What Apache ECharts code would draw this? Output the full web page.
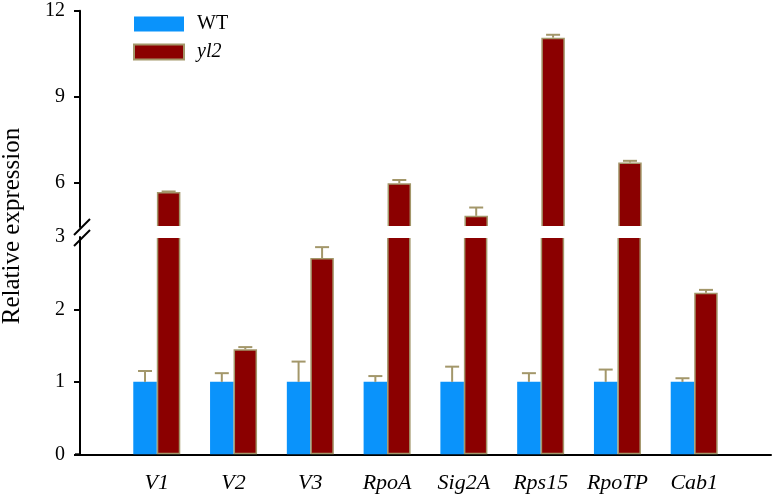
<!DOCTYPE html>
<html><head><meta charset="utf-8">
<script src="https://cdn.jsdelivr.net/npm/echarts@6/dist/echarts.min.js"></script>
<style>html,body{margin:0;padding:0;background:#fff}#c{width:774px;height:499px}</style>
</head><body><div id="c"></div>
<script>
const categories = ['V1', 'V2', 'V3', 'RpoA', 'Sig2A', 'Rps15', 'RpoTP', 'Cab1'];
const wtValues  = [1, 1, 1, 1, 1, 1, 1, 1];
const wtErrors  = [0.15, 0.12, 0.28, 0.08, 0.21, 0.12, 0.17, 0.05];
const yl2Values = [5.67, 1.45, 2.71, 5.98, 4.84, 11.06, 6.70, 2.23];
const yl2Errors = [0.02, 0.03, 0.15, 0.11, 0.29, 0.10, 0.06, 0.04];
const lowerTickLabels = [0, 1, 2, 3];
const upperTickLabels = [6, 9, 12];

const LOWER_MAX = 3, UPPER_MIN = 4.45, UPPER_MAX = 12;
const BAR_W = 23.5, CAP = 14;
const WT_COLOR = '#0a93fb', YL2_COLOR = '#8b0000', EDGE = '#a3976a';
const FONT = 'Liberation Serif';

const axisCats = [''].concat(categories, ['']);
const pad = arr => [null].concat(arr, [null]);

function errData(vals, errs, test) {
  const out = [];
  vals.forEach((v, i) => { if (test(v, errs[i])) out.push([i + 1, v, v + errs[i]]); });
  return out;
}
function errRenderer(sign) {
  return function (params, api) {
    const x = api.value(0), v = api.value(1), hi = api.value(2);
    const p0 = api.coord([x, v]);
    const p1 = api.coord([x, hi]);
    const cx = p0[0] + sign * BAR_W / 2;
    return {
      type: 'group', children: [
        { type: 'line', shape: { x1: cx, y1: p0[1], x2: cx, y2: p1[1] }, style: { stroke: EDGE, lineWidth: 2 } },
        { type: 'line', shape: { x1: cx - CAP / 2, y1: p1[1], x2: cx + CAP / 2, y2: p1[1] }, style: { stroke: EDGE, lineWidth: 2 } }
      ]
    };
  };
}

const chart = echarts.init(document.getElementById('c'), null, { renderer: 'canvas' });
const yl2Style = { color: YL2_COLOR, borderColor: EDGE, borderWidth: 1.5 };

chart.setOption({
  backgroundColor: '#ffffff',
  animation: false,
  textStyle: { fontFamily: FONT },
  grid: [
    { left: 80, right: 2, top: 237, height: 217.3 },
    { left: 80, right: 2, top: 10.7, height: 216.3 }
  ],
  legend: {
    orient: 'vertical', left: 133, top: 14, padding: 0,
    itemWidth: 50, itemHeight: 15, itemGap: 8,
    icon: 'rect',
    data: ['WT', 'yl2'],
    formatter: n => n === 'yl2' ? '{i|yl2}' : n,
    textStyle: {
      fontFamily: FONT, fontSize: 20, color: '#000', lineHeight: 15, padding: [0, 0, 0, 8],
      rich: { i: { fontFamily: FONT, fontSize: 20, fontStyle: 'italic', color: '#000', lineHeight: 15 } }
    }
  },
  xAxis: [
    {
      gridIndex: 0, type: 'category', data: axisCats, boundaryGap: false,
      axisLine: { lineStyle: { color: '#000', width: 2 } },
      axisTick: { show: false },
      axisLabel: { interval: 0, margin: 18, fontFamily: FONT, fontSize: 22, fontStyle: 'italic', color: '#000' }
    },
    { gridIndex: 1, type: 'category', data: axisCats, boundaryGap: false, show: false }
  ],
  yAxis: [
    {
      gridIndex: 0, type: 'value', min: 0, max: LOWER_MAX, interval: 1,
      axisLine: { show: true, lineStyle: { color: '#000', width: 2 } },
      axisTick: { show: true, length: 6, lineStyle: { color: '#000', width: 2 }, customValues: [0, 1, 2] },
      axisLabel: { margin: 15, fontFamily: FONT, fontSize: 20, color: '#000', customValues: lowerTickLabels },
      splitLine: { show: false }
    },
    {
      gridIndex: 1, type: 'value', min: UPPER_MIN, max: UPPER_MAX,
      axisLine: { show: true, lineStyle: { color: '#000', width: 2 } },
      axisTick: { show: true, length: 6, lineStyle: { color: '#000', width: 2 }, customValues: upperTickLabels },
      axisLabel: { margin: 15, fontFamily: FONT, fontSize: 20, color: '#000', customValues: upperTickLabels },
      splitLine: { show: false }
    }
  ],
  series: [
    { name: 'WT', type: 'bar', xAxisIndex: 0, yAxisIndex: 0, barWidth: BAR_W, barGap: '0%', clip: true,
      itemStyle: { color: WT_COLOR }, data: pad(wtValues) },
    { name: 'yl2', type: 'bar', xAxisIndex: 0, yAxisIndex: 0, barWidth: BAR_W, barGap: '0%', clip: true,
      itemStyle: yl2Style, data: pad(yl2Values) },
    { name: 'WT', type: 'bar', xAxisIndex: 1, yAxisIndex: 1, barWidth: BAR_W, barGap: '0%', clip: true,
      itemStyle: { color: WT_COLOR }, data: pad(wtValues.map(v => v > UPPER_MIN ? v : null)) },
    { name: 'yl2', type: 'bar', xAxisIndex: 1, yAxisIndex: 1, barWidth: BAR_W, barGap: '0%', clip: true,
      itemStyle: yl2Style, data: pad(yl2Values.map(v => v > UPPER_MIN ? v : null)) },
    { type: 'custom', xAxisIndex: 0, yAxisIndex: 0, renderItem: errRenderer(-1), encode: { x: 0, y: [1, 2] }, z: 3,
      data: errData(wtValues, wtErrors, (v, e) => v + e <= LOWER_MAX) },
    { type: 'custom', xAxisIndex: 0, yAxisIndex: 0, renderItem: errRenderer(1), encode: { x: 0, y: [1, 2] }, z: 3,
      data: errData(yl2Values, yl2Errors, (v, e) => v + e <= LOWER_MAX) },
    { type: 'custom', xAxisIndex: 1, yAxisIndex: 1, renderItem: errRenderer(1), encode: { x: 0, y: [1, 2] }, z: 3,
      data: errData(yl2Values, yl2Errors, (v, e) => v > UPPER_MIN) }
  ],
  graphic: [
    { type: 'rect', z: 10, shape: { x: 82, y: 226, width: 690, height: 12 }, style: { fill: '#ffffff' } },
    { type: 'text', z: 11, x: 12, y: 226, rotation: Math.PI / 2,
      style: { text: 'Relative expression', fill: '#000', font: '25px "Liberation Serif"', textAlign: 'center', textVerticalAlign: 'middle' } },
    { type: 'line', z: 11, shape: { x1: 74, y1: 235, x2: 90, y2: 219 }, style: { stroke: '#000', lineWidth: 2 } },
    { type: 'line', z: 11, shape: { x1: 74, y1: 246, x2: 90, y2: 230 }, style: { stroke: '#000', lineWidth: 2 } },
    { type: 'line', z: 11, shape: { x1: 75, y1: 454.3, x2: 81, y2: 454.3 }, style: { stroke: '#000', lineWidth: 2 } }
  ]
});
</script>
</body></html>
